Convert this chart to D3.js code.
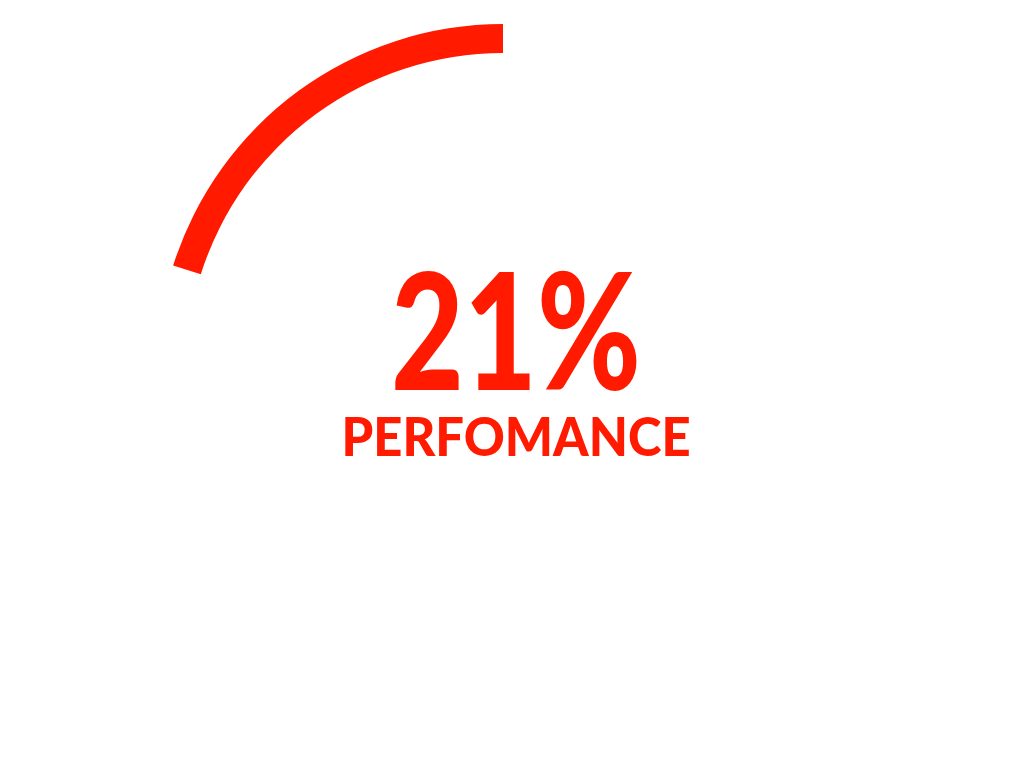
<!DOCTYPE html>
<html><head><meta charset="utf-8">
<script src="https://cdn.jsdelivr.net/npm/d3@7"></script>
<style>html,body{margin:0;padding:0;background:#fff;}svg{display:block;}</style>
</head><body>
<svg id="chart" width="1024" height="768"></svg>
<script>
const percentValue = [21];
const valueLabels = ["21%"];
const captionLabels = ["PERFOMANCE"];
const colors = ["#ff1a00"];

const svg = d3.select("#chart");
const cx = 503, cy = 370, outerR = 346, innerR = 317;
const g = svg.append("g").attr("transform", `translate(${cx},${cy})`);

const angle = d3.scaleLinear().domain([0, 100]).range([0, -2 * Math.PI * 0.958]);
const arc = d3.arc().innerRadius(innerR).outerRadius(outerR).startAngle(0);

g.selectAll("path.val").data(percentValue).join("path")
  .attr("class", "val")
  .attr("d", d => arc({ endAngle: angle(d) }))
  .attr("fill", colors[0]);

svg.append("text")
  .attr("x", 516).attr("y", 390)
  .attr("text-anchor", "middle")
  .attr("font-family", "Lato, 'Noto Sans', sans-serif")
  .attr("font-weight", 900)
  .attr("font-size", 163)
  .attr("textLength", 250).attr("lengthAdjust", "spacingAndGlyphs")
  .attr("fill", colors[0])
  .text(valueLabels[0]);

svg.append("text")
  .attr("x", 516).attr("y", 456)
  .attr("text-anchor", "middle")
  .attr("font-family", "Lato, 'Noto Sans', sans-serif")
  .attr("font-weight", 900)
  .attr("font-size", 53)
  .attr("textLength", 349).attr("lengthAdjust", "spacingAndGlyphs")
  .attr("fill", colors[0])
  .text(captionLabels[0]);
</script>
</body></html>
